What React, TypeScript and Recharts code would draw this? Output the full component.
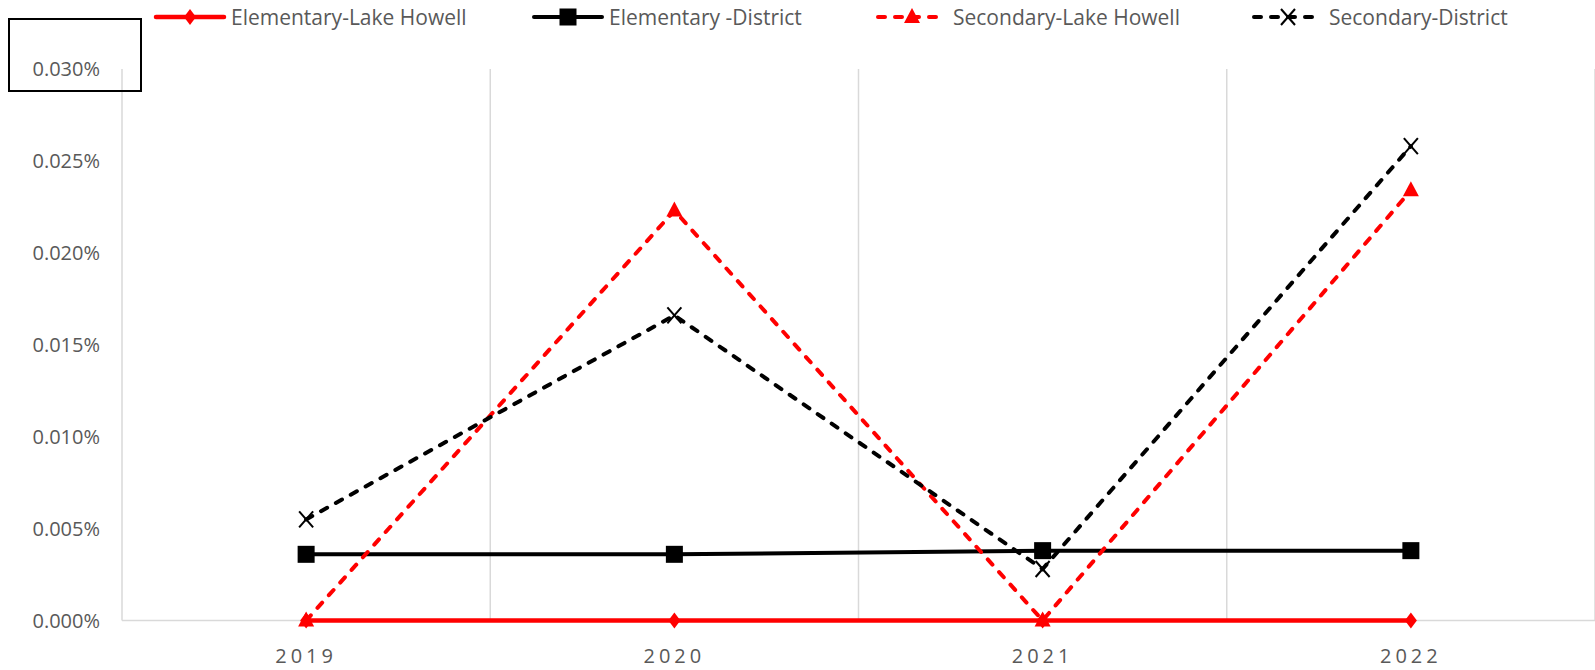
import React from "react"
import { LineChart, Line, XAxis, YAxis, CartesianGrid } from "recharts"

const years = ["2019", "2020", "2021", "2022"]
const elemLakeHowell = [0, 0, 0, 0]
const elemDistrict = [0.0036, 0.0036, 0.0038, 0.0038]
const secLakeHowell = [0, 0.0223, 0, 0.0234]
const secDistrict = [0.0055, 0.0166, 0.0028, 0.0258]
const yTicks = [0, 0.005, 0.01, 0.015, 0.02, 0.025, 0.03]
const gridTicks = [0, 1, 2, 3, 4]

const series = [
  { key: "elemLH", name: "Elementary-Lake Howell", color: "#ff0000", dash: undefined, shape: "diamond", width: 4.5 },
  { key: "elemD", name: "Elementary -District", color: "#000000", dash: undefined, shape: "square", width: 4 },
  { key: "secLH", name: "Secondary-Lake Howell", color: "#ff0000", dash: "7 10", shape: "triangle", width: 4 },
  { key: "secD", name: "Secondary-District", color: "#000000", dash: "7 10", shape: "x", width: 4 },
]

const data = years.map((year, i) => ({
  year,
  pos: i + 0.5,
  elemLH: elemLakeHowell[i],
  elemD: elemDistrict[i],
  secLH: secLakeHowell[i],
  secD: secDistrict[i],
}))

const FONT = "'Open Sans', sans-serif"

function Marker({ shape, cx, cy, color }: { shape: string; cx: number; cy: number; color: string }) {
  if (shape === "diamond")
    return <polygon points={`${cx},${cy - 8} ${cx + 6},${cy} ${cx},${cy + 8} ${cx - 6},${cy}`} fill={color} />
  if (shape === "square") return <rect x={cx - 8.5} y={cy - 8.5} width={17} height={17} fill={color} />
  if (shape === "triangle")
    return <polygon points={`${cx},${cy - 9} ${cx + 8},${cy + 6} ${cx - 8},${cy + 6}`} fill={color} />
  return (
    <g stroke={color} strokeWidth={2}>
      <line x1={cx - 7} y1={cy - 8} x2={cx + 7} y2={cy + 8} />
      <line x1={cx + 7} y1={cy - 8} x2={cx - 7} y2={cy + 8} />
    </g>
  )
}

function makeDot(shape: string, color: string) {
  return (props: any) => {
    const { cx, cy, index } = props
    if (cx == null || cy == null) return <g key={index} />
    return (
      <g key={index}>
        <Marker shape={shape} cx={cx} cy={cy} color={color} />
      </g>
    )
  }
}

function ChartLegend() {
  const starts = [153, 531, 875, 1251]
  return (
    <div style={{ position: "absolute", left: 0, top: 3, width: 1595, height: 30, fontFamily: FONT }}>
      {series.map((s, i) => (
        <div
          key={s.key}
          style={{ position: "absolute", left: starts[i], top: 0, display: "flex", alignItems: "center" }}
        >
          <svg width={74} height={24}>
            <line x1={3} y1={12} x2={71} y2={12} stroke={s.color} strokeWidth={s.width} strokeDasharray={s.dash ? "7 10" : undefined} strokeLinecap="round" />
            <Marker shape={s.shape} cx={37} cy={12} color={s.color} />
          </svg>
          <span style={{ fontSize: 21, color: "#595959", marginLeft: 4, lineHeight: "28px" }}>{s.name}</span>
        </div>
      ))}
    </div>
  )
}

// zero line sits at the bottom of the plot area (domain starts at 0)
const zeroLine = ({ offset }: any) => [offset.top + offset.height]

export default function App() {
  return (
    <div style={{ position: "absolute", left: 0, top: 0, width: 1595, height: 670, background: "#fff", overflow: "hidden" }}>
      <LineChart width={1595} height={670} data={data} margin={{ top: 69, right: 0, bottom: 0, left: 0 }}>
        <CartesianGrid
          xAxisId="grid"
          stroke="#d9d9d9"
          strokeWidth={1.5}
          horizontalCoordinatesGenerator={zeroLine}
        />
        <XAxis xAxisId="grid" dataKey="pos" type="number" domain={[0, 4]} ticks={gridTicks} hide />
        <XAxis
          xAxisId="cat"
          dataKey="year"
          scale="band"
          height={49.5}
          tickLine={false}
          tickSize={0}
          tickMargin={28}
          axisLine={false}
          tick={{ fill: "#595959", fontSize: 20, fontFamily: FONT, letterSpacing: 4 }}
        />
        <YAxis
          width={122}
          domain={[0, 0.03]}
          ticks={yTicks}
          tickFormatter={(v: number) => v.toFixed(3) + "%"}
          axisLine={false}
          tickLine={false}
          tickSize={0}
          tickMargin={22}
          tick={{ fill: "#595959", fontSize: 20, fontFamily: FONT }}
        />
        {series.map((s) => (
          <Line
            key={s.key}
            xAxisId="cat"
            dataKey={s.key}
            name={s.name}
            stroke={s.color}
            strokeWidth={s.width}
            strokeDasharray={s.dash}
            strokeLinecap="round"
            dot={makeDot(s.shape, s.color)}
            activeDot={false}
            isAnimationActive={false}
          />
        ))}
      </LineChart>
      <ChartLegend />
      <div
        style={{ position: "absolute", left: 8, top: 18, width: 130, height: 70, border: "2px solid #000", pointerEvents: "none" }}
      />
    </div>
  )
}
